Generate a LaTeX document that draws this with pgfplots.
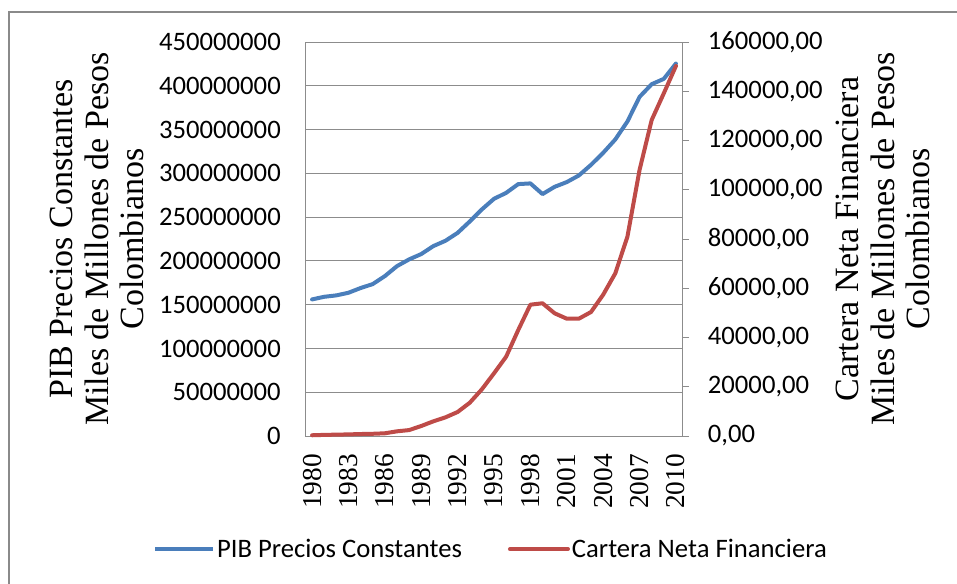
\documentclass[border=0pt]{standalone}
\usepackage{pgfplots}
\pgfplotsset{compat=1.18}
\usepackage{fontspec}
\setmainfont{Liberation Serif}
\newfontfamily\calibri{Carlito}
\definecolor{pibblue}{HTML}{4A7EBB}
\definecolor{carred}{HTML}{BE4B48}
\definecolor{axgray}{HTML}{8C8C8C}
\definecolor{framegray}{HTML}{8A8A8A}
\begin{document}
\begin{tikzpicture}
\useasboundingbox (0,0) rectangle (717.75pt,437.25pt);
\draw[framegray, line width=1.5pt] (6.75pt,-1pt) -- (6.75pt,428.25pt) -- (719pt,428.25pt);
\begin{axis}[
  at={(229.5pt,110.25pt)}, anchor=south west,
  scale only axis, width=282pt, height=295.5pt,
  xmin=1979.5, xmax=2010.5, ymin=0, ymax=450000000,
  scaled x ticks=false, scaled y ticks=false,
  axis line style={axgray, line width=0.75pt},
  ymajorgrids, grid style={axgray, line width=0.75pt},
  xtick={1980,1983,1986,1989,1992,1995,1998,2001,2004,2007,2010},
  xticklabels={1980,1983,1986,1989,1992,1995,1998,2001,2004,2007,2010},
  ytick={0,50000000,100000000,150000000,200000000,250000000,300000000,350000000,400000000,450000000},
  yticklabels={0,50000000,100000000,150000000,200000000,250000000,300000000,350000000,400000000,450000000},
  major tick length=0pt,
  xticklabel shift=13.5pt, yticklabel shift=18.75pt,
  x tick label style={font=\fontsize{20.5}{24}\selectfont, rotate=90, anchor=east, inner sep=0pt},
  y tick label style={font=\calibri\fontsize{20}{24}\selectfont, anchor=east, inner sep=0pt},
  ylabel={PIB Precios Constantes\\Miles de Millones de Pesos\\Colombianos},
  ylabel style={at={(axis description cs:-0.556,0.5)}, rotate=0, anchor=center, align=center, font=\fontsize{25.5}{26.6}\selectfont},
  clip=false,
]
\addplot[pibblue, line width=3pt, line join=round, line cap=round] coordinates {
(1980,156000000) (1981,159000000) (1982,160600000) (1983,163600000) (1984,169000000)
(1985,173500000) (1986,182600000) (1987,194000000) (1988,201700000) (1989,207800000)
(1990,216900000) (1991,223000000) (1992,232000000) (1993,245000000) (1994,258800000)
(1995,270900000) (1996,277700000) (1997,287700000) (1998,288500000) (1999,276300000)
(2000,284600000) (2001,290000000) (2002,297600000) (2003,309700000) (2004,323400000)
(2005,338700000) (2006,359200000) (2007,387300000) (2008,401800000) (2009,407900000)
(2010,425400000)};
\end{axis}
\begin{axis}[
  at={(229.5pt,110.25pt)}, anchor=south west,
  scale only axis, width=282pt, height=295.5pt,
  xmin=1979.5, xmax=2010.5, ymin=0, ymax=160000,
  scaled y ticks=false,
  hide x axis,
  axis y line*=right,
  y axis line style={-, axgray, line width=0.75pt},
  ytick={0,20000,40000,60000,80000,100000,120000,140000,160000},
  yticklabels={{0,00},{20000,00},{40000,00},{60000,00},{80000,00},{100000,00},{120000,00},{140000,00},{160000,00}},
  tick align=outside, major tick length=5.25pt,
  ytick style={axgray, line width=0.75pt},
  y tick label style={font=\calibri\fontsize{20}{24}\selectfont, anchor=west, inner sep=0pt, xshift=14pt},
  ylabel={Cartera Neta Financiera\\Miles de Millones de Pesos\\Colombianos},
  ylabel style={at={(axis description cs:1.5346,0.5)}, rotate=0, anchor=center, align=center, font=\fontsize{25.5}{26.6}\selectfont},
  legend style={at={(axis description cs:0.492,-0.287)}, anchor=center, draw=none, fill=none,
    font=\calibri\fontsize{20}{24}\selectfont, legend columns=2,
    /tikz/every even column/.append style={column sep=33pt},
    nodes={inner sep=1.5pt}},
  legend image code/.code={\draw[#1] (0pt,0pt) -- (43.5pt,0pt);},
  clip=false,
]
\addlegendimage{pibblue, line width=3pt}
\addlegendentry{PIB Precios Constantes}
\addplot[carred, line width=3pt, line join=round, line cap=round] coordinates {
(1980,300) (1981,450) (1982,550) (1983,650) (1984,800)
(1985,900) (1986,1100) (1987,1900) (1988,2400) (1989,4060)
(1990,5960) (1991,7580) (1992,9750) (1993,13500) (1994,18960)
(1995,25460) (1996,32200) (1997,43050) (1998,53330) (1999,53900)
(2000,49830) (2001,47640) (2002,47640) (2003,50360) (2004,57380)
(2005,66060) (2006,80940) (2007,108020) (2008,128320) (2009,139170)
(2010,150250)};
\addlegendentry{Cartera Neta Financiera}
\end{axis}
\end{tikzpicture}
\end{document}
